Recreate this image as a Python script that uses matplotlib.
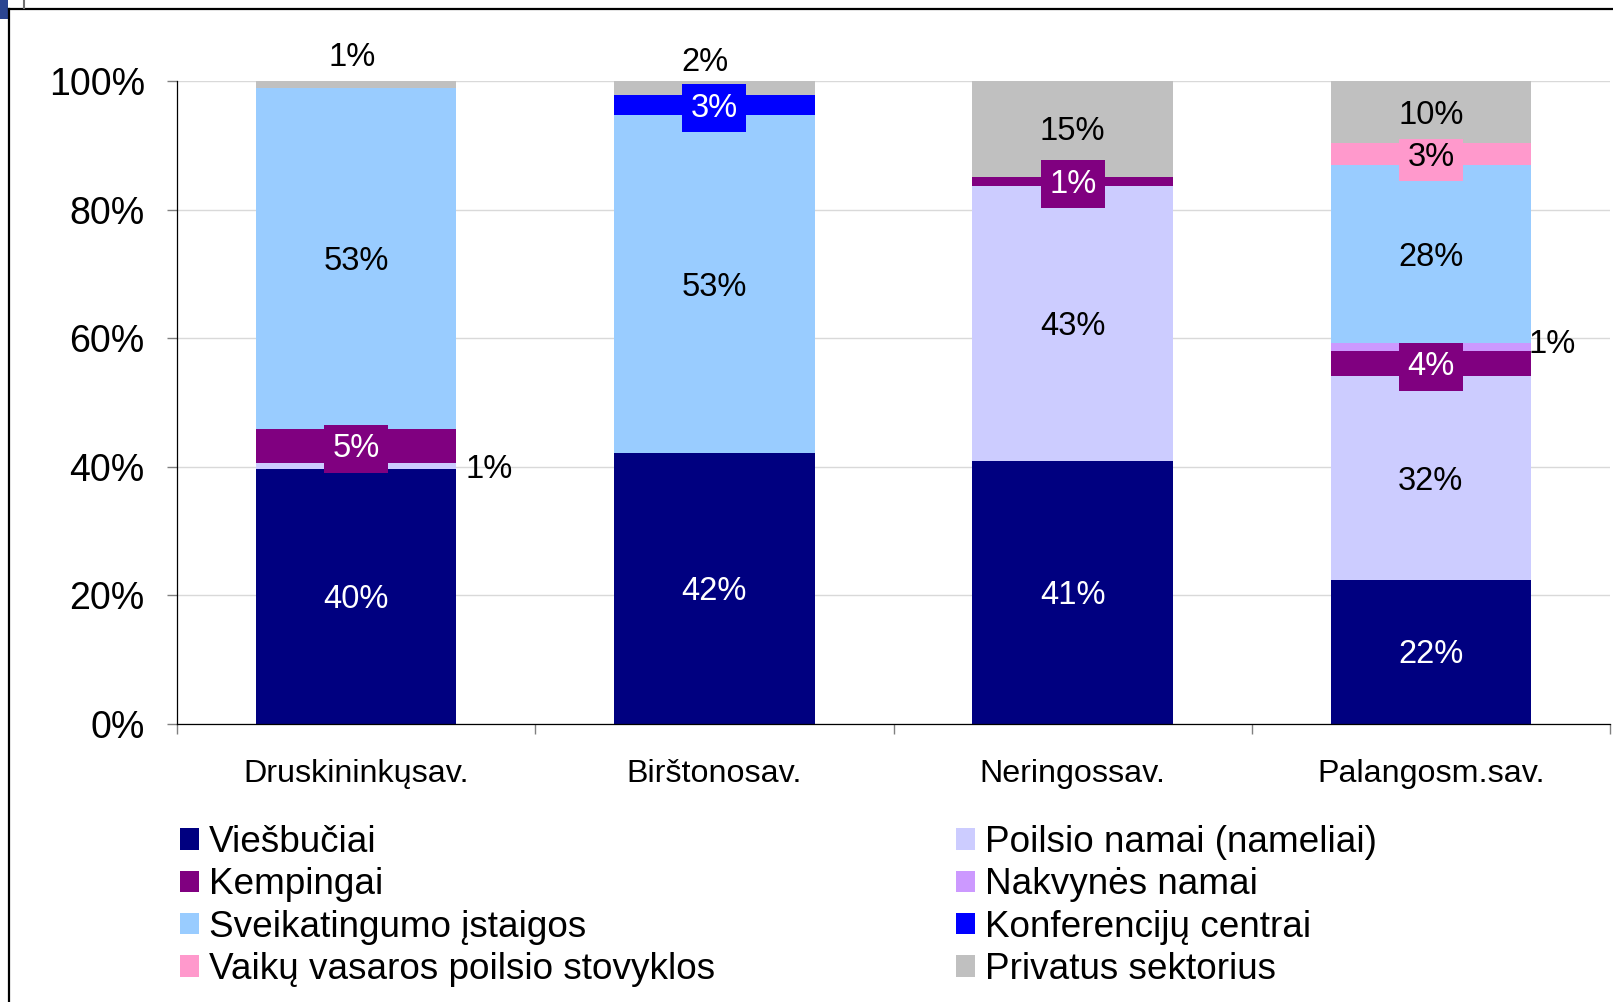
import numpy as np
import matplotlib
matplotlib.use("Agg")
import matplotlib.pyplot as plt
from matplotlib.patches import Patch, Rectangle
from matplotlib.lines import Line2D

plt.rcParams['font.family'] = ['Liberation Sans', 'DejaVu Sans']

# data (percent of each municipality)
categories = ["Druskininkųsav.", "Birštonosav.", "Neringossav.", "Palangosm.sav."]
series_names = ["Viešbučiai", "Poilsio namai (nameliai)", "Kempingai", "Nakvynės namai",
                "Sveikatingumo įstaigos", "Konferencijų centrai",
                "Vaikų vasaros poilsio stovyklos", "Privatus sektorius"]
viesbuciai = [39.7, 42.1, 40.9, 22.4]
poilsio = [0.9, 0.0, 42.8, 31.7]
kempingai = [5.3, 0.0, 1.4, 3.9]
nakvynes = [0.0, 0.0, 0.0, 1.2]
sveikatingumo = [53.0, 52.6, 0.0, 27.7]
konferenciju = [0.0, 3.1, 0.0, 0.0]
vaiku = [0.0, 0.0, 0.0, 3.4]
privatus = [1.1, 2.2, 14.9, 9.7]
series_vals = [viesbuciai, poilsio, kempingai, nakvynes,
               sveikatingumo, konferenciju, vaiku, privatus]
yticks = [0, 20, 40, 60, 80, 100]

colors = ['#000080', '#CCCCFF', '#800080', '#CC99FF',
          '#99CCFF', '#0000FF', '#FF99CC', '#C0C0C0']
text_colors = ['white', 'black', 'white', 'black', 'black', 'white', 'black', 'black']

# labels moved outside the bars: (series index, category) -> offset in pixels from segment centre
outside = {(7, 0): (-4, 31), (7, 1): (-9, 30), (1, 0): (133, 0), (3, 3): (121, 7)}
lab_size = 23.5

W, H = 1613, 1002
fig = plt.figure(figsize=(W / 100, H / 100), dpi=100)
ax = fig.add_axes([177 / W, (H - 724) / H, (1610 - 177) / W, (724 - 81) / H])

x = np.arange(len(categories))
bottom = np.zeros(len(categories))
for si, (vals, col) in enumerate(zip(series_vals, colors)):
    vals = np.array(vals)
    ax.bar(x, vals, 0.56, bottom=bottom, color=col, zorder=2, linewidth=0)
    for ci, v in enumerate(vals):
        if v <= 0:
            continue
        yc = bottom[ci] + v / 2
        lab = f"{v:.0f}%"
        if (si, ci) in outside:
            dx, dy = outside[(si, ci)]
            ax.annotate(lab, (x[ci], yc), xytext=(dx, dy - 4), textcoords='offset pixels',
                        ha='center', va='center', fontsize=lab_size, color='black', zorder=5)
        else:
            ax.annotate(lab, (x[ci], yc), xytext=(0, -3), textcoords='offset pixels',
                        ha='center', va='center', fontsize=lab_size,
                        color=text_colors[si], zorder=5,
                        bbox=dict(boxstyle='square,pad=0.26', fc=col, ec='none'))
    bottom += vals

ax.set_xlim(-0.5, 3.5)
ax.set_ylim(0, 100)
ax.set_yticks(yticks)
ax.set_yticklabels([f"{t}%" for t in yticks])
ax.yaxis.grid(True, color='#d9d9d9', lw=1)
ax.set_axisbelow(True)

ax.set_xticks(np.arange(-0.5, 4, 1))
ax.set_xticklabels([])
ax.set_xticks(x, minor=True)
ax.set_xticklabels(categories, minor=True)
ax.tick_params(axis='x', which='major', length=7.2, color='#808080', width=1)
ax.tick_params(axis='x', which='minor', length=0, pad=25, labelsize=23.2)
ax.tick_params(axis='y', length=7.2, color='#808080', width=1, pad=16.0, labelsize=27)

for s in ['top', 'right']:
    ax.spines[s].set_visible(False)
for s in ['left', 'bottom']:
    ax.spines[s].set_color('black')
    ax.spines[s].set_linewidth(0.9)

# legend in two columns, Excel order row by row
handles = [Patch(facecolor=c, edgecolor='none') for c in colors]
col1 = [0, 2, 4, 6]
col2 = [1, 3, 5, 7]
leg_kw = dict(loc='upper left', frameon=False, fontsize=26.6, borderpad=0, borderaxespad=0,
              handlelength=0.52, handleheight=0.52, handletextpad=0.26, labelspacing=0.2)
leg1 = fig.legend([handles[i] for i in col1], [series_names[i] for i in col1],
                  bbox_to_anchor=(180 / W, 1 - 825 / H), **leg_kw)
leg2 = fig.legend([handles[i] for i in col2], [series_names[i] for i in col2],
                  bbox_to_anchor=(956 / W, 1 - 825 / H), **leg_kw)

# slide frame around the chart
fig.add_artist(Line2D([9 / W, 1], [1 - 9.3 / H, 1 - 9.3 / H], color='black', lw=1.6))
fig.add_artist(Line2D([9.3 / W, 9.3 / W], [0, 1 - 9 / H], color='black', lw=1.6))
fig.add_artist(Rectangle((0, 1 - 19 / H), 8 / W, 19 / H, color='#2b4591', lw=0))
fig.add_artist(Line2D([24 / W, 24 / W], [1, 1 - 8 / H], color='#707070', lw=1.5))

fig.savefig("out.png", dpi=100)
